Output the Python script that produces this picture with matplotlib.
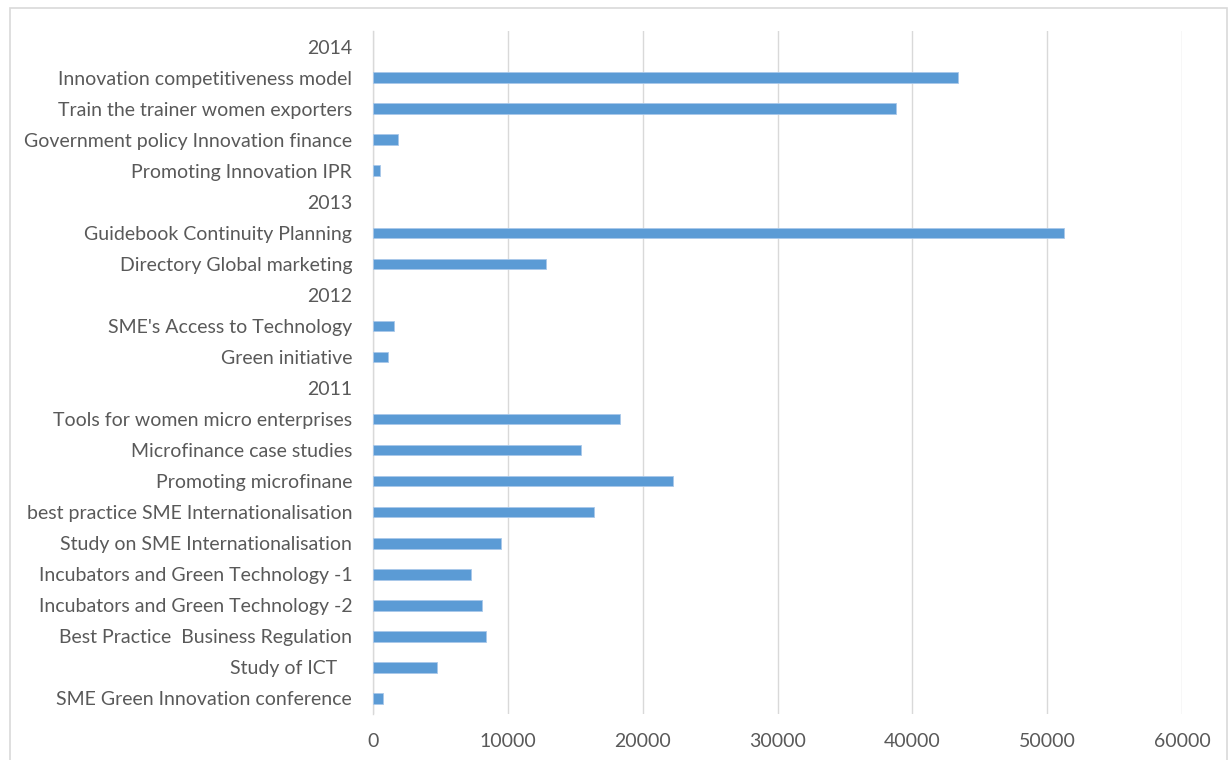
import numpy as np
import matplotlib
matplotlib.use("Agg")
import matplotlib.pyplot as plt
from matplotlib.patches import Rectangle

# Categories from top to bottom (year headers have no value)
categories = [
    "2014",
    "Innovation competitiveness model",
    "Train the trainer women exporters",
    "Government policy Innovation finance",
    "Promoting Innovation IPR",
    "2013",
    "Guidebook Continuity Planning",
    "Directory Global marketing",
    "2012",
    "SME's Access to Technology",
    "Green initiative",
    "2011",
    "Tools for women micro enterprises",
    "Microfinance case studies",
    "Promoting microfinane",
    "best practice SME Internationalisation",
    "Study on SME Internationalisation",
    "Incubators and Green Technology -1",
    "Incubators and Green Technology -2",
    "Best Practice  Business Regulation",
    "Study of ICT   ",
    "SME Green Innovation conference",
]
values = [
    None, 43400, 38800, 1880, 550,
    None, 51250, 12860,
    None, 1540, 1140,
    None, 18290, 15390, 22230, 16380, 9470, 7290, 8050, 8380, 4780, 720,
]
x_ticks = [0, 10000, 20000, 30000, 40000, 50000, 60000]

W, H = 1230, 760
fig = plt.figure(figsize=(W / 100, H / 100), dpi=100)
fig.patch.set_facecolor("white")

left, right, top, bottom = 373, 1182, 31, 714
ax = fig.add_axes([left / W, 1 - bottom / H, (right - left) / W, (bottom - top) / H])

n = len(categories)
ypos = np.arange(n)
vals = np.array([np.nan if v is None else v for v in values], dtype=float)

ax.barh(ypos, vals, height=0.34, color="#5B9BD5", edgecolor="#A9C8EA", linewidth=0.6, zorder=3)

ax.set_ylim(n - 0.5, -0.5)
ax.set_xlim(0, 60000)
ax.set_xticks(x_ticks)
ax.set_xticklabels([str(t) for t in x_ticks])
ax.set_yticks(ypos)
ax.set_yticklabels(categories)

font = "Lato"
for lbl in ax.get_yticklabels() + ax.get_xticklabels():
    lbl.set_fontfamily(font)
    lbl.set_fontsize(14)
    lbl.set_color("#595959")

ax.tick_params(axis="y", length=0, pad=15)
ax.tick_params(axis="x", length=0, pad=14)

ax.grid(axis="x", color="#D9D9D9", linewidth=1.0, zorder=0)
ax.set_axisbelow(True)
for s in ["top", "right", "bottom"]:
    ax.spines[s].set_visible(False)
ax.spines["left"].set_color("#D9D9D9")
ax.spines["left"].set_linewidth(1.0)

# Outer chart border
fig.patches.append(Rectangle((10 / W, 1 - 762 / H), (1227 - 10) / W, (762 - 8) / H,
                             transform=fig.transFigure, fill=False,
                             edgecolor="#D9D9D9", linewidth=1.2))

fig.savefig("out.png", dpi=100, facecolor="white")
